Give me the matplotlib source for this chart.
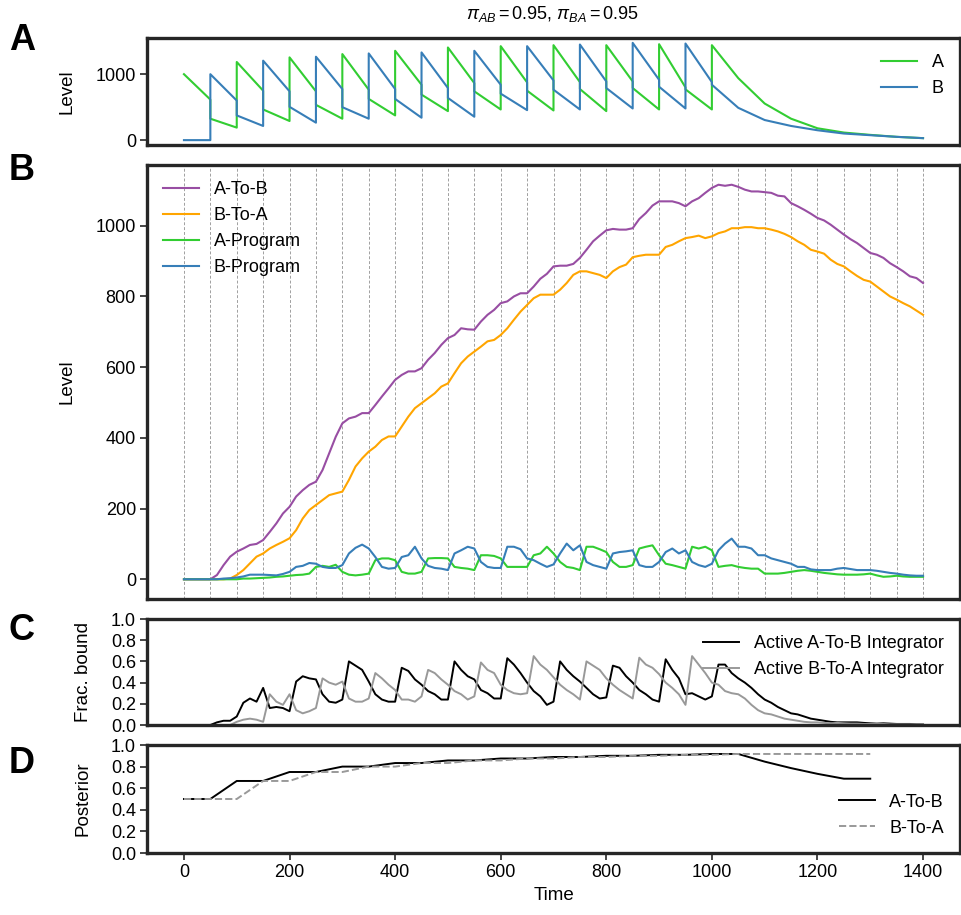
import numpy as np
import matplotlib
matplotlib.use("Agg")
import matplotlib.pyplot as plt

plt.rcParams['font.family'] = ['Liberation Sans', 'DejaVu Sans']
plt.rcParams['mathtext.fontset'] = 'custom'
plt.rcParams['mathtext.rm'] = 'Liberation Sans'
plt.rcParams['mathtext.it'] = 'Liberation Sans:italic'

GREEN = '#32cd32'
BLUE = '#377eb8'
PURPLE = '#984ea3'
ORANGE = '#ffa500'
GRAY = '#999999'
DARK = '#262626'

# --- program levels (A), values before/after each switch ---
prog_t = [0, 50, 50, 100, 100, 150, 150, 200, 200, 250, 250, 300, 300, 350, 350,
          400, 400, 450, 450, 500, 500, 550, 550, 600, 600, 650, 650, 700, 700,
          750, 750, 800, 800, 850, 850, 900, 900, 950, 950, 1000, 1000,
          1050, 1100, 1150, 1200, 1250, 1300, 1350, 1400]
prog_a = [1000, 615, 325, 190, 1185, 750, 465, 290, 1255, 740, 535, 325, 1305, 765, 625,
          375, 1355, 840, 690, 440, 1405, 865, 740, 465, 1425, 875, 750, 450, 1440,
          880, 775, 440, 1440, 890, 790, 465, 1455, 800, 770, 465, 1440,
          940, 555, 325, 180, 115, 80, 50, 30]
prog_b = [0, 0, 1000, 600, 375, 215, 1205, 740, 505, 265, 1265, 775, 500, 325, 1315,
          775, 625, 340, 1330, 790, 640, 355, 1355, 840, 705, 455, 1425, 905, 765,
          465, 1450, 890, 790, 480, 1475, 915, 810, 480, 1465, 880, 840,
          490, 305, 215, 150, 100, 75, 50, 30]

# --- sampled traces for B and C (every 12.5 time units, 0..1400) ---
time_grid = np.arange(0, 1400.1, 12.5)

a_to_b = [0, 0, 0, 0, 0, 12, 40, 64,
          78, 87, 97, 100, 111, 134, 158, 186,
          205, 234, 252, 267, 276, 309, 356, 403,
          441, 455, 460, 470, 470, 493, 517, 540,
          564, 578, 588, 588, 597, 621, 640, 663,
          682, 691, 710, 707, 706, 729, 748, 762,
          781, 786, 800, 809, 809, 828, 850, 864,
          885, 887, 887, 892, 909, 932, 956, 972,
          987, 991, 989, 989, 993, 1019, 1036, 1057,
          1069, 1069, 1069, 1064, 1055, 1069, 1078, 1093,
          1107, 1116, 1113, 1116, 1110, 1102, 1097, 1097,
          1095, 1093, 1085, 1083, 1064, 1055, 1045, 1034,
          1022, 1015, 1003, 989, 975, 962, 951, 937,
          923, 918, 909, 894, 883, 871, 857, 852,
          838]
b_to_a = [0, 0, 0, 0, 0, 0, 0, 2,
          12, 26, 45, 64, 73, 87, 97, 106,
          116, 139, 172, 196, 210, 224, 238, 243,
          248, 281, 319, 342, 361, 375, 394, 404,
          404, 432, 460, 484, 498, 512, 526, 545,
          554, 583, 611, 630, 644, 658, 673, 677,
          691, 710, 734, 757, 776, 795, 805, 805,
          805, 819, 838, 861, 871, 871, 866, 861,
          852, 871, 883, 890, 911, 915, 918, 918,
          918, 940, 946, 956, 965, 968, 972, 965,
          970, 979, 984, 993, 993, 996, 996, 993,
          993, 989, 984, 977, 968, 956, 946, 932,
          927, 921, 904, 892, 885, 871, 858, 847,
          842, 828, 814, 800, 791, 781, 772, 760,
          748]
a_program = [0, 0, 0, 0, 0, 0, 0, 0,
             0, 2, 2, 3, 4, 5, 7, 8,
             10, 12, 13, 16, 35, 38, 35, 41,
             21, 13, 11, 13, 16, 54, 59, 59,
             54, 21, 16, 16, 21, 59, 60, 60,
             59, 35, 32, 30, 26, 68, 68, 66,
             59, 35, 35, 35, 35, 68, 73, 92,
             73, 49, 35, 32, 26, 92, 92, 85,
             77, 49, 35, 35, 40, 87, 92, 96,
             68, 44, 40, 35, 30, 92, 87, 92,
             82, 35, 38, 40, 35, 32, 30, 30,
             16, 16, 16, 18, 21, 24, 26, 24,
             21, 18, 16, 14, 13, 13, 13, 14,
             16, 11, 7, 8, 10, 8, 7, 7,
             7]
b_program = [0, 0, 0, 0, 0, 0, 2, 3,
             5, 8, 13, 13, 13, 12, 11, 15,
             21, 35, 38, 46, 44, 35, 32, 32,
             40, 73, 89, 98, 87, 63, 35, 30,
             32, 63, 68, 92, 59, 38, 32, 30,
             26, 73, 82, 92, 87, 49, 35, 32,
             32, 92, 92, 85, 59, 54, 44, 35,
             42, 73, 101, 82, 96, 49, 40, 35,
             30, 73, 77, 79, 82, 40, 35, 35,
             49, 77, 87, 73, 82, 49, 40, 35,
             44, 82, 101, 115, 92, 92, 87, 68,
             68, 59, 54, 49, 44, 35, 35, 28,
             26, 26, 26, 30, 32, 29, 26, 26,
             26, 24, 21, 18, 16, 13, 11, 10,
             10]

int_ab = [0, 0, 0, 0, 0, 0.025, 0.04, 0.04,
          0.08, 0.21, 0.25, 0.22, 0.35, 0.16, 0.17, 0.16,
          0.13, 0.41, 0.46, 0.44, 0.43, 0.29, 0.22, 0.21,
          0.24, 0.60, 0.56, 0.52, 0.41, 0.29, 0.24, 0.22,
          0.22, 0.54, 0.51, 0.43, 0.38, 0.32, 0.29, 0.24,
          0.24, 0.60, 0.52, 0.46, 0.43, 0.33, 0.30, 0.25,
          0.25, 0.63, 0.57, 0.49, 0.40, 0.32, 0.27, 0.19,
          0.22, 0.60, 0.52, 0.46, 0.41, 0.35, 0.29, 0.25,
          0.26, 0.56, 0.54, 0.46, 0.40, 0.33, 0.29, 0.24,
          0.22, 0.62, 0.52, 0.44, 0.29, 0.30, 0.27, 0.24,
          0.27, 0.57, 0.57, 0.49, 0.44, 0.40, 0.35, 0.29,
          0.24, 0.21, 0.17, 0.14, 0.11, 0.10, 0.08, 0.06,
          0.05, 0.04, 0.03, 0.025, 0.025, 0.025, 0.025, 0.02,
          0.016, 0.013, 0.016, 0.013, 0.01, 0.01, 0.01, 0.006,
          0.005]
int_ba = [0, 0, 0, 0, 0, 0, 0, 0,
          0.03, 0.05, 0.06, 0.05, 0.03, 0.29, 0.22, 0.19,
          0.29, 0.14, 0.11, 0.13, 0.16, 0.44, 0.40, 0.38,
          0.41, 0.25, 0.22, 0.22, 0.25, 0.49, 0.44, 0.38,
          0.33, 0.24, 0.24, 0.22, 0.27, 0.52, 0.49, 0.43,
          0.38, 0.32, 0.29, 0.24, 0.27, 0.59, 0.52, 0.49,
          0.38, 0.33, 0.30, 0.29, 0.30, 0.65, 0.57, 0.52,
          0.45, 0.38, 0.33, 0.29, 0.24, 0.60, 0.56, 0.52,
          0.44, 0.38, 0.33, 0.29, 0.25, 0.635, 0.57, 0.54,
          0.48, 0.40, 0.35, 0.29, 0.19, 0.65, 0.57, 0.49,
          0.40, 0.38, 0.32, 0.30, 0.29, 0.25, 0.19, 0.14,
          0.11, 0.10, 0.08, 0.06, 0.05, 0.04, 0.03, 0.025,
          0.025, 0.02, 0.016, 0.02, 0.016, 0.013, 0.013, 0.01,
          0.01, 0.01, 0.01, 0.006, 0.006, 0.006, 0.006, 0.006,
          0.005]

# --- posterior (D) ---
post_t = [0, 50, 100, 150, 200, 250, 300, 350, 400, 450, 500, 550, 600, 650,
          700, 750, 800, 850, 900, 950, 1000, 1050, 1100, 1150, 1200, 1250, 1300]
post_ab = [0.5, 0.5, 0.667, 0.667, 0.75, 0.75, 0.8, 0.8, 0.833, 0.833, 0.857, 0.857,
           0.875, 0.875, 0.889, 0.889, 0.9, 0.9, 0.909, 0.909, 0.917, 0.917,
           0.846, 0.786, 0.733, 0.688, 0.688]
post_ba = [0.5, 0.5, 0.5, 0.667, 0.667, 0.75, 0.75, 0.8, 0.8, 0.833, 0.833, 0.857,
           0.857, 0.875, 0.875, 0.889, 0.889, 0.9, 0.9, 0.909, 0.909, 0.917,
           0.917, 0.917, 0.917, 0.917, 0.917]

switch_times = list(range(0, 1401, 50))

W, H = 961, 915
fig = plt.figure(figsize=(W / 100, H / 100), dpi=100)


def rect(top, bottom, left=147, right=960):
    return [left / W, 1 - bottom / H, (right - left) / W, (bottom - top) / H]


axA = fig.add_axes(rect(38, 145))
axB = fig.add_axes(rect(165, 599))
axC = fig.add_axes(rect(619, 725))
axD = fig.add_axes(rect(745, 853))

for ax in (axA, axB, axC, axD):
    for s in ax.spines.values():
        s.set_linewidth(2.4)
        s.set_color(DARK)
    ax.tick_params(axis='y', length=5, width=1.2, labelsize=13, color=DARK, pad=3)
    ax.set_xlim(-70, 1470)
for ax in (axA, axB, axC):
    ax.tick_params(axis='x', bottom=False, labelbottom=False)

# A: program levels
axA.plot(prog_t, prog_a, color=GREEN, lw=1.5, label='A')
axA.plot(prog_t, prog_b, color=BLUE, lw=1.5, label='B')
axA.set_yticks([0, 1000])
axA.set_ylabel('Level', fontsize=13.5)
axA.yaxis.set_label_coords(-0.088, 0.5)
axA.legend(loc='upper right', frameon=False, fontsize=13)

# B: integrator levels
for st in switch_times:
    axB.axvline(st, color='#a0a0a0', lw=0.7, ls=(0, (3, 2)), zorder=0)
axB.plot(time_grid, a_to_b, color=PURPLE, lw=1.5, label='A-To-B')
axB.plot(time_grid, b_to_a, color=ORANGE, lw=1.5, label='B-To-A')
axB.plot(time_grid, a_program, color=GREEN, lw=1.5, label='A-Program')
axB.plot(time_grid, b_program, color=BLUE, lw=1.5, label='B-Program')
axB.set_yticks([0, 200, 400, 600, 800, 1000])
axB.set_ylabel('Level', fontsize=13.5)
axB.yaxis.set_label_coords(-0.088, 0.5)
axB.legend(loc='upper left', frameon=False, fontsize=13)

# C: fraction bound
axC.plot(time_grid, int_ab, color='black', lw=1.4, label='Active A-To-B Integrator')
axC.plot(time_grid, int_ba, color=GRAY, lw=1.4, label='Active B-To-A Integrator')
axC.set_ylim(0, 1)
axC.set_yticks([0, 0.2, 0.4, 0.6, 0.8, 1.0])
axC.set_ylabel('Frac. bound', fontsize=13.5)
axC.yaxis.set_label_coords(-0.068, 0.5)
axC.legend(loc='upper right', frameon=False, fontsize=13)

# D: posterior
axD.plot(post_t, post_ab, color='black', lw=1.4, label='A-To-B')
axD.plot(post_t, post_ba, color=GRAY, lw=1.4, ls='--', label='B-To-A')
axD.set_ylim(0, 1)
axD.set_yticks([0, 0.2, 0.4, 0.6, 0.8, 1.0])
axD.set_xticks([0, 200, 400, 600, 800, 1000, 1200, 1400])
axD.tick_params(axis='x', length=5, width=1.2, labelsize=13, color=DARK, pad=3)
axD.set_ylabel('Posterior', fontsize=13.5)
axD.yaxis.set_label_coords(-0.068, 0.5)
axD.set_xlabel('Time', fontsize=13.5)
axD.legend(loc='lower right', frameon=False, fontsize=13)

fig.text(553 / W, 1 - 14 / H, r'$\pi_{AB}=0.95$, $\pi_{BA}=0.95$',
         ha='center', va='center', fontsize=13)

for lab, base in (('A', 50), ('B', 180), ('C', 640), ('D', 773)):
    fig.text(9 / W, 1 - base / H, lab, fontsize=26, fontweight='bold',
             ha='left', va='baseline')

fig.savefig('out.png', dpi=100)
